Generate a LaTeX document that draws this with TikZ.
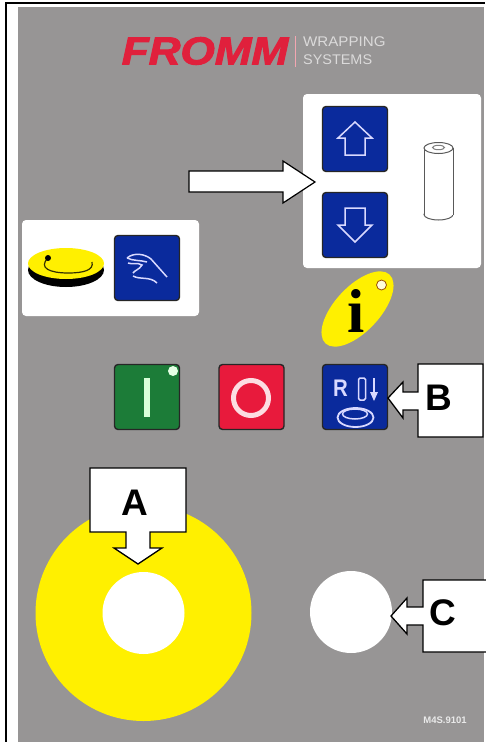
\documentclass[tikz,border=0pt]{standalone}
\usepackage{fontspec}
\setmainfont{Liberation Sans}
\newfontfamily\serifbold[BoldFont=Liberation Serif Bold]{Liberation Serif}
\newfontfamily\logofont[UprightFont=* Bold Italic, FakeBold=2.5]{Liberation Sans}
\usetikzlibrary{shapes.geometric, calc}
\definecolor{panelgray}{HTML}{979595}
\definecolor{keyblue}{HTML}{0A2A9C}
\definecolor{keygreen}{HTML}{1C7C38}
\definecolor{keyred}{HTML}{E81A3C}
\definecolor{discyellow}{HTML}{FFF000}
\definecolor{logored}{HTML}{E0203C}
\tikzset{
    whitepanel/.style={rectangle, rounded corners=4pt, fill=white, inner sep=0pt},
    keybox/.style={rectangle, rounded corners=3.5pt, draw=black!85, line width=1.4pt, minimum size=65pt, inner sep=0pt},
    glyph/.style={draw=white!85!blue, line width=1.5pt, line join=miter},
    hole/.style={circle, fill=white, inner sep=0pt, minimum size=82pt},
    callout/.style={draw=black, fill=white, line width=1.3pt, line join=miter},
    calletter/.style={font=\fontsize{37}{37}\selectfont\bfseries, inner sep=0pt},
    logotext/.style={text=white!65!panelgray, font=\fontsize{14}{14}\selectfont, inner sep=0pt, anchor=west},
    rollline/.style={draw=black!65, fill=white, line width=1pt},
}

\begin{document}
\begin{tikzpicture}[x=1pt, y=-1pt]
    \useasboundingbox (0,0) rectangle (485,742);

    % Plate and frame
    \fill[panelgray] (18,6.5) rectangle (483.5,742);
    \draw[black, line width=2.5pt] (6,742) -- (6,2.8) -- (485,2.8);

    % Logo
    \node[text=logored, font=\fontsize{39}{39}\selectfont\logofont, inner sep=0pt, xscale=1.13] (logo) at (205,51) {FROMM};
    \draw[white!60!logored, line width=1pt] (295,36) -- (295,67);
    \node[logotext, xscale=1.08] (wrapping) at (303,42) {WRAPPING};
    \node[logotext, xscale=1.03] (systems) at (303,60) {SYSTEMS};

    % Panels
    \node[whitepanel, minimum width=178pt, minimum height=174pt] (rollpanel) at (392,181) {};
    \node[whitepanel, minimum width=177pt, minimum height=96pt] (turnpanel) at (110.5,268) {};

    % Up and down keys
    \node[keybox, fill=keyblue] (keyup) at (355,139) {};
    \node[keybox, fill=keyblue] (keydown) at (355,225) {};
    \draw[glyph, shift={(keyup.center)}] (0,-17) -- (17,-1) -- (10,-1) -- (10,16) -- (-10,16) -- (-10,-1) -- (-17,-1) -- cycle;
    \draw[glyph, shift={(keydown.center)}] (0,17) -- (17,0) -- (10,0) -- (10,-17) -- (-10,-17) -- (-10,0) -- (-17,0) -- cycle;

    % Film roll
    \draw[rollline] (438.5,214.5) ellipse (14.5 and 5.5);
    \fill[white] (424,148) rectangle (453,214.5);
    \draw[rollline] (424,148) -- (424,214.5) (453,148) -- (453,214.5);
    \draw[rollline] (438.5,148) ellipse (14.5 and 5.5);
    \draw[rollline, draw=black!50] (438.5,147.5) ellipse (6 and 2.2);

    % Turn disc and hand key
    \fill[black] (66,270) ellipse (38 and 17);
    \fill[discyellow] (66,263.5) ellipse (38 and 15.5);
    \draw[black!80!discyellow, line width=1.2pt] (48,258) .. controls (38,268) and (50,273) .. (68,273) .. controls (84,273) and (94,270) .. (92,262);
    \fill[black] (48,258) circle (3);
    \node[keybox, fill=keyblue] (keyhand) at (147,268) {};
    \draw[glyph] (127,258) .. controls (134,252) and (145,254) .. (151,259) -- (167,277);
    \draw[glyph] (127,258) .. controls (133,261) and (140,260) .. (147,262);
    \draw[glyph] (128,263) .. controls (133,265) and (137,262) .. (142,265) .. controls (139,270) and (135,270) .. (133,273);
    \draw[glyph] (133,276) .. controls (140,280) and (150,276) .. (157,283);

    % Info disc
    \node[ellipse, fill=discyellow, minimum width=94pt, minimum height=45pt, inner sep=0pt, rotate=47] (infodisc) at (357.5,309) {};
    \node[circle, fill=white!85!discyellow, draw=black!40!orange, line width=0.8pt, minimum size=10pt, inner sep=0pt] (infolamp) at (381.5,285) {};
    \node[font=\fontsize{62}{62}\selectfont\serifbold\bfseries, inner sep=0pt] (infoletter) at (356,311) {i};

    % Start, stop and reset keys
    \node[keybox, fill=keygreen] (keystart) at (147,397) {};
    \fill[white!85!green] (143.5,378) rectangle (150,417);
    \node[circle, fill=white!90!green, minimum size=10pt, inner sep=0pt] (startlamp) at (173,371) {};
    \node[keybox, fill=keyred] (keystop) at (251.5,397) {};
    \node[circle, draw=white!85!keyred, line width=5pt, minimum size=35pt, inner sep=0pt] (stopring) at (251,398) {};
    \node[keybox, fill=keyblue] (keyreset) at (355,397) {};
    \node[text=white!85!blue, font=\fontsize{24}{24}\selectfont\bfseries, inner sep=0pt, xscale=0.85] (resetletter) at (340.5,388) {R};
    \draw[glyph, rounded corners=1.5pt] (358.5,378) rectangle (365.5,400);
    \draw[glyph] (374,378) -- (374,393);
    \fill[white!85!blue] (370,392) -- (378,392) -- (374,401) -- cycle;
    \draw[glyph, line width=1.8pt] (355.5,417.5) ellipse (18 and 9.5);
    \draw[glyph] (355,414) ellipse (12.5 and 5);

    % Large discs
    \node[circle, fill=discyellow, inner sep=0pt, minimum size=216pt] (bigdisc) at (143.5,613) {};
    \node[hole] (holea) at (143.5,613) {};
    \node[hole] (holec) at (351,612) {};

    % Arrow to the keys
    \draw[draw=black, fill=white, line width=1.2pt, line join=miter] (189,171) -- (283,171) -- (283,161) -- (315,182) -- (283,203) -- (283,192) -- (189,192) -- cycle;

    % Callouts
    \draw[callout] (90,468) -- (186,468) -- (186,532) -- (150,532) -- (150,548) -- (162,548) -- (138,564) -- (114,548) -- (126,548) -- (126,532) -- (90,532) -- cycle;
    \node[calletter] (lettera) at (135,503) {A};
    \draw[callout] (418,364) -- (483,364) -- (483,437) -- (418,437) -- (418,410) -- (403,410) -- (403,418) -- (388,398) -- (403,382) -- (403,392) -- (418,392) -- cycle;
    \node[calletter] (letterb) at (439,398) {B};
    \draw[callout] (423,580) -- (487,580) -- (487,652) -- (423,652) -- (423,625) -- (407,625) -- (407,634) -- (391,616) -- (407,598) -- (407,607) -- (423,607) -- cycle;
    \node[calletter] (letterc) at (443,613) {C};

    % Plate code
    \node[text=white!80!panelgray, font=\fontsize{9.5}{9.5}\selectfont\bfseries, inner sep=0pt] (platecode) at (445,720) {M4S.9101};
\end{tikzpicture}
\end{document}
